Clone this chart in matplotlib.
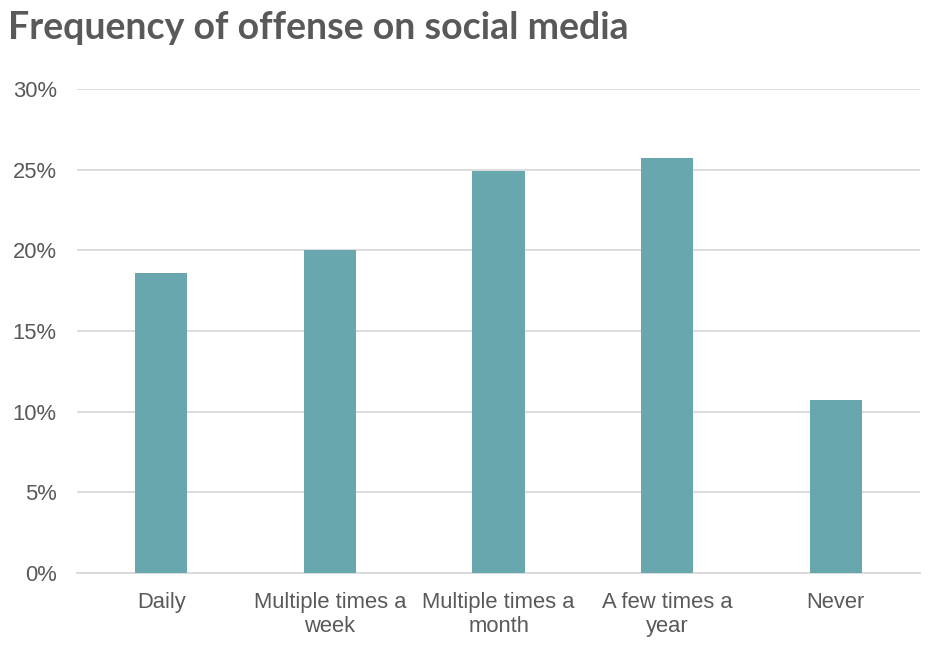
import matplotlib.pyplot as plt
from matplotlib.ticker import PercentFormatter

categories = ["Daily", "Multiple times a\nweek", "Multiple times a\nmonth",
              "A few times a\nyear", "Never"]
values = [18.6, 20.0, 24.9, 25.7, 10.7]
yticks = [0, 5, 10, 15, 20, 25, 30]

bar_color = "#68A7AD"
text_color = "#595959"
grid_color = "#D9D9D9"

fig = plt.figure(figsize=(9.41, 6.47), dpi=100)
ax = fig.add_axes([77 / 941, 74 / 647, 843 / 941, 484 / 647])

x = range(len(categories))
ax.bar(x, values, width=0.31, color=bar_color, zorder=3)

ax.set_xlim(-0.5, len(categories) - 0.5)
ax.set_ylim(0, 30)
ax.set_yticks(yticks)
ax.yaxis.set_major_formatter(PercentFormatter(decimals=0))
ax.set_xticks(list(x))
ax.set_xticklabels(categories, linespacing=1.15)

for s in ["top", "right", "left"]:
    ax.spines[s].set_visible(False)
ax.spines["bottom"].set_color(grid_color)
ax.spines["bottom"].set_linewidth(1.3)
ax.grid(axis="y", color=grid_color, linewidth=1.3, zorder=0)
ax.tick_params(axis="both", length=0, labelsize=15.8, labelcolor=text_color,
               labelfontfamily="Liberation Sans")
ax.tick_params(axis="y", pad=14.5)
ax.tick_params(axis="x", pad=14)

fig.text(8 / 941, 1 - 28 / 647, "Frequency of offense on social media",
         fontsize=27, fontweight="bold", family="Lato", color=text_color,
         va="center", ha="left")

fig.savefig("out.png", dpi=100)
